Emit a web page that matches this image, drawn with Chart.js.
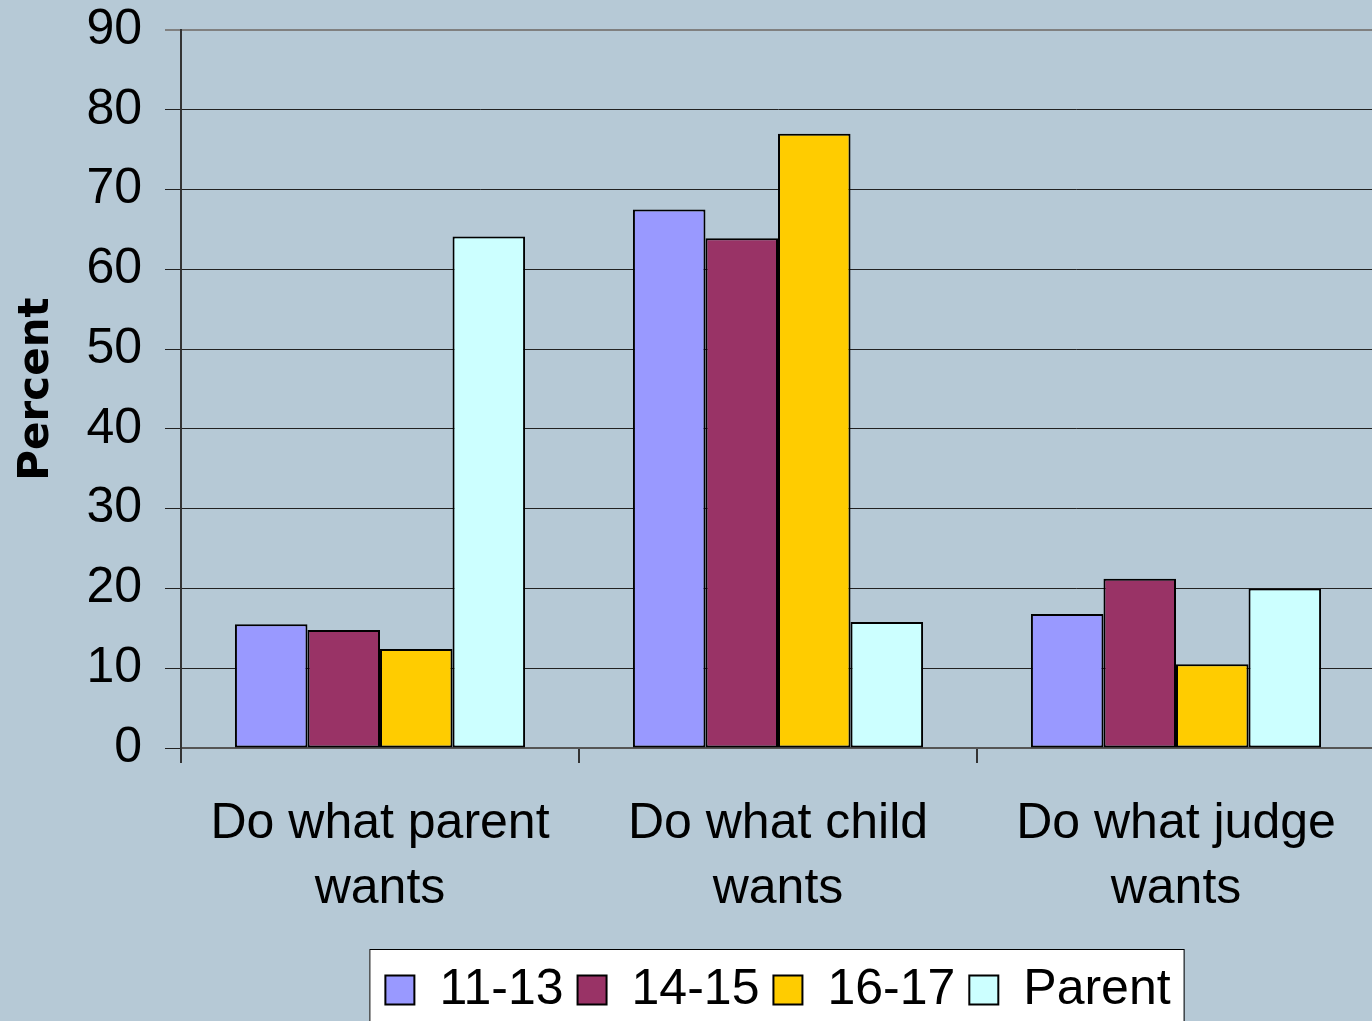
<!DOCTYPE html>
<html>
<head>
<meta charset="utf-8">
<script src="https://cdn.jsdelivr.net/npm/chart.js@4"></script>
<style>
  html, body { margin: 0; padding: 0; overflow: hidden; background: #B6C9D6; }
  #wrap { width: 1380px; height: 1025px; }
</style>
</head>
<body>
<div id="wrap"><canvas id="myChart" width="1380" height="1025"></canvas></div>
<script>
var categorias = [['Do what parent', 'wants'], ['Do what child', 'wants'], ['Do what judge', 'wants']];
var series = ['11-13', '14-15', '16-17', 'Parent'];
var edad1113 = [15.5, 67.5, 16.8];
var edad1415 = [14.8, 63.9, 21.2];
var edad1617 = [12.4, 77.0, 10.5];
var padres = [64.1, 15.8, 20.0];
var colores = ['#9999FF', '#993366', '#FFCC00', '#CCFFFF'];
var yTicks = [0, 10, 20, 30, 40, 50, 60, 70, 80, 90];

var valores = [edad1113, edad1415, edad1617, padres];

// fondo y caja blanca de la leyenda
var fondo = {
  id: 'fondo',
  beforeDraw: function(chart) {
    var c = chart.ctx;
    c.save();
    c.fillStyle = '#B6C9D6';
    c.fillRect(0, 0, chart.width, chart.height);
    var boxes = chart.legend.legendHitBoxes;
    if (boxes && boxes.length) {
      var l = boxes[0].left, r = 0, t = boxes[0].top;
      boxes.forEach(function(b) {
        l = Math.min(l, b.left);
        r = Math.max(r, b.left + b.width);
        t = Math.min(t, b.top);
      });
      c.fillStyle = '#FFFFFF';
      c.strokeStyle = '#000000';
      c.lineWidth = 1;
      c.fillRect(l - 16, t - 16, r - l + 29, chart.height);
      c.strokeRect(l - 16 + 0.5, t - 16 + 0.5, r - l + 29, chart.height);
    }
    c.restore();
  }
};

var ctx = document.getElementById('myChart').getContext('2d');
var myChart = new Chart(ctx, {
  type: 'bar',
  data: {
    labels: categorias,
    datasets: series.map(function(s, i) {
      return {
        label: s,
        data: valores[i],
        backgroundColor: colores[i],
        borderColor: '#000000',
        borderWidth: 2,
        borderSkipped: false,
        categoryPercentage: 0.729,
        barPercentage: 1.0
      };
    })
  },
  options: {
    responsive: false,
    animation: false,
    layout: { padding: { top: 0, right: 5, left: 0, bottom: 0 } },
    plugins: {
      tooltip: { enabled: false },
      legend: {
        position: 'bottom',
        fullSize: false,
        labels: {
          color: '#000',
          font: { family: 'Liberation Sans, Arial', size: 50 },
          boxWidth: 29,
          boxHeight: 29,
          padding: 14
        }
      }
    },
    scales: {
      x: {
        grid: {
          display: true,
          drawOnChartArea: false,
          drawTicks: true,
          tickLength: 15,
          color: '#333333',
          lineWidth: 2
        },
        border: { display: true, color: '#555555', width: 2 },
        ticks: {
          color: '#000',
          padding: 29,
          font: { family: 'Liberation Sans, Arial', size: 50, lineHeight: 1.3 }
        }
      },
      y: {
        min: 0,
        max: 90,
        afterBuildTicks: function(scale) {
          scale.ticks = yTicks.map(function(v) { return { value: v }; });
        },
        grid: {
          color: function(c) { return c.tick && c.tick.value === 90 ? '#808080' : '#222222'; },
          lineWidth: function(c) { return c.tick && c.tick.value === 90 ? 2 : 1; },
          tickLength: 16
        },
        border: { display: true, color: '#333333', width: 2 },
        ticks: {
          color: '#000',
          padding: 23,
          font: { family: 'Liberation Sans, Arial', size: 50, lineHeight: 0.28 }
        },
        title: {
          display: true,
          text: 'Percent',
          color: '#000',
          padding: { top: 12, bottom: 1 },
          font: { family: 'DejaVu Sans', size: 42, weight: 'bold' }
        }
      }
    }
  },
  plugins: [fondo]
});
</script>
</body>
</html>
